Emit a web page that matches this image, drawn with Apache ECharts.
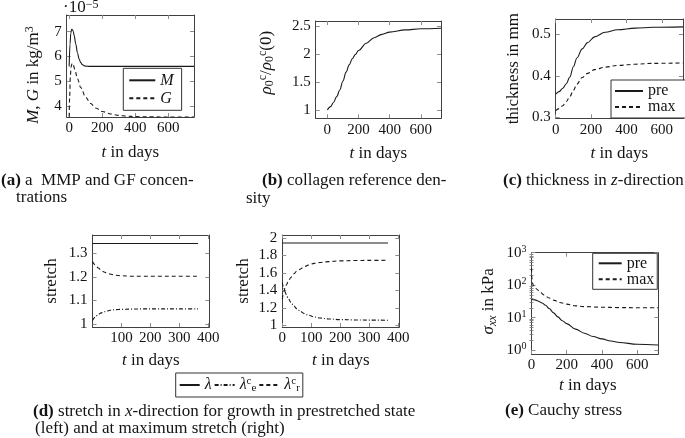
<!DOCTYPE html>
<html><head><meta charset="utf-8">
<script src="https://cdn.jsdelivr.net/npm/echarts@6/dist/echarts.min.js"></script>
<style>html,body{margin:0;padding:0;background:#fff}#c{width:685px;height:438px}</style>
</head><body><div id="c"></div>
<script>
// ---------------- data ----------------
// (a) MMP and GF concentrations (x1e-5 kg/m^3)
const aTimeM = [0,5,10,15,20,25,30,40,50,60,70,80,90,100,120,150,200,300,400,500,600,755];
const aM     = [5.6,6.5,6.95,7.1,7.08,7.0,6.85,6.5,6.15,5.9,5.75,5.67,5.63,5.61,5.6,5.6,5.6,5.6,5.6,5.6,5.6,5.6];
const aTimeG = [0,3,7,12,18,25,35,50,70,100,130,160,200,250,300,350,400,500,600,755];
const aG     = [3.57,4.4,5.2,5.6,5.72,5.65,5.45,5.1,4.75,4.35,4.1,3.92,3.78,3.68,3.62,3.59,3.57,3.56,3.558,3.557];
// (b) collagen reference density
const bTime = [0,20,40,60,80,100,120,140,160,180,200,250,300,350,400,500,600,730];
const bRho  = [1.0,1.06,1.14,1.24,1.36,1.52,1.68,1.81,1.92,2.0,2.07,2.2,2.3,2.36,2.4,2.44,2.46,2.47];
// (c) thickness in z-direction
const cTime = [0,20,40,60,80,100,120,150,180,220,280,350,450,550,720];
const cPre  = [0.356,0.362,0.37,0.381,0.397,0.422,0.443,0.465,0.48,0.494,0.505,0.511,0.515,0.517,0.518];
const cMax  = [0.316,0.321,0.328,0.338,0.35,0.365,0.38,0.396,0.406,0.415,0.421,0.425,0.428,0.43,0.431];
// (d) stretch, prestretched (left) and maximum stretch (right)
const dLamTime = [0,365];
const dLamLeft = [1.342,1.342];
const dLamRight = [1.943,1.943];
const dTimeL = [0,10,20,30,40,50,60,80,100,130,170,220,300,365];
const dLeLeft = [1.015,1.03,1.04,1.047,1.052,1.055,1.058,1.061,1.062,1.063,1.064,1.064,1.064,1.064];
const dLrLeft = [1.265,1.25,1.238,1.228,1.221,1.216,1.212,1.207,1.205,1.203,1.203,1.203,1.203,1.203];
const dTimeR = [0,5,10,15,20,30,40,50,60,75,90,110,130,160,200,250,300,365];
const dLeRight = [1.49,1.43,1.38,1.34,1.31,1.26,1.22,1.19,1.165,1.135,1.115,1.095,1.083,1.072,1.065,1.061,1.059,1.058];
const dLrRight = [1.3,1.38,1.43,1.47,1.5,1.55,1.59,1.62,1.64,1.67,1.69,1.71,1.72,1.73,1.738,1.742,1.744,1.745];
// (e) Cauchy stress (kPa)
const eTimePre = [0,20,40,60,80,100,125,150,175,200,250,300,350,400,450,500,600,720];
const ePre     = [36,35,32,28,24,19,14,10.5,8,6.5,4.4,3.3,2.6,2.2,1.9,1.7,1.5,1.42];
const eTimeMax = [0,2,5,10,20,30,50,70,100,130,160,200,250,300,400,500,600,720];
const eMax     = [330,170,120,100,85,75,60,50,40,34,29,26,23,21.8,20.8,20.3,20.1,20];
// tick labels
const aXTicks = [0,200,400,600];
const aYTicks = [4,5,6,7];
const bXTicks = [0,200,400,600];
const bYTicks = [1,1.5,2,2.5];
const cXTicks = [0,200,400,600];
const cYTicks = [0.3,0.4,0.5];
const dLeftXTicks = [100,200,300,400];
const dRightXTicks = [0,100,200,300,400];
const dLeftYTicks = [1,1.1,1.2,1.3];
const dRightYTicks = [1,1.2,1.4,1.6,1.8,2];
const eXTicks = [0,200,400,600];
const eYTicks = [1,10,100,1000];
const eYMinorTicks = [2,3,4,5,6,7,8,9,20,30,40,50,60,70,80,90,200,300,400,500,600,700,800,900];

// ---------------- style ----------------
const FONT = 'Liberation Serif';
const FS = 17;      // titles, captions
const TFS = 15;     // tick labels
const LFS = 16;     // legend
const TXT = '#141414';
const BOX = '#404040';
const TICK = '#8c8c8c';
const LINE = '#1a1a1a';
function mkRich(fs, small) {
  return {
    i:   {fontFamily: FONT, fontSize: fs, fontStyle: 'italic', color: TXT, lineHeight: fs + 2},
    b:   {fontFamily: FONT, fontSize: fs, fontWeight: 'bold', color: TXT, lineHeight: fs + 2},
    sup: {fontFamily: FONT, fontSize: small, color: TXT, verticalAlign: 'top', lineHeight: small - 1},
    sub: {fontFamily: FONT, fontSize: small, color: TXT, verticalAlign: 'bottom', lineHeight: small - 1},
    isub:{fontFamily: FONT, fontSize: small, fontStyle: 'italic', color: TXT, verticalAlign: 'bottom', lineHeight: small - 1}
  };
}
const rich = mkRich(FS, 12);
const richTick = mkRich(TFS, 10);
const richLeg = mkRich(LFS, 11);
const txtStyle = {fontFamily: FONT, fontSize: FS, color: TXT, lineHeight: FS + 2, rich: rich};

const panels = [
  {grid:{left:66.7, top:15, width:127.3, height:102}, xr:[-15,755], yr:[3.556,7.674], xt:aXTicks, yt:aYTicks, xGap:26, yGap:24, yPad:[0,18,0,0], yName:'{i|M}, {i|G} in kg/m{sup|3}'},
  {grid:{left:315.7, top:21, width:125.3, height:97.3}, xr:[-75,730], yr:[0.85,2.6], xt:bXTicks, yt:bYTicks, xGap:26, yGap:40, yPad:[0,0,0,14], yName:'{i|ρ}{sub|0}{sup|c}/{i|ρ}{sub|0}{sup|c}(0)'},
  {grid:{left:555.7, top:19, width:127.3, height:99.3}, xr:[0,720], yr:[0.2976,0.537], xt:cXTicks, yt:cYTicks, xGap:26, yGap:33, yName:'thickness in mm'},
  {grid:{left:92.5, top:235, width:116.8, height:92}, xr:[0,404], yr:[0.987,1.378], xt:dLeftXTicks, yt:dLeftYTicks, xGap:24, yGap:31, yName:'stretch'},
  {grid:{left:282.3, top:235, width:117, height:92}, xr:[0,404], yr:[0.98,2.035], xt:dRightXTicks, yt:dRightYTicks, xGap:24, yGap:29, yName:'stretch'},
  {grid:{left:531.5, top:252.7, width:126.8, height:101.3}, xr:[0,720], yr:[0.753,1000], log:true, xt:eXTicks, yt:eYTicks, minor:eYMinorTicks, xGap:22, yGap:33, xPad:[0,14,0,0], yPad:[0,0,0,4], yName:'{i|σ}{isub|xx} in kPa'}
];

const grids = [], xAxes = [], yAxes = [], yIndex = [];
panels.forEach((p, gi) => {
  grids.push(Object.assign({outerBoundsMode:'none', containLabel:false}, p.grid));
  const line = {show:true, onZero:false, lineStyle:{color:BOX, width:1}};
  const tick = {show:true, inside:true, length:4, customValues:p.xt, lineStyle:{color:TICK, width:1}};
  xAxes.push({type:'value', gridIndex:gi, position:'bottom', min:p.xr[0], max:p.xr[1],
    axisLine:line, axisTick:tick, splitLine:{show:false},
    axisLabel:{show:true, customValues:p.xt, margin:4, fontFamily:FONT, fontSize:TFS, color:TXT},
    name:'{i|t} in days', nameLocation:'middle', nameGap:p.xGap,
    nameTextStyle:Object.assign({}, txtStyle, {padding:p.xPad||0})});
  xAxes.push({type:'value', gridIndex:gi, position:'top', min:p.xr[0], max:p.xr[1],
    axisLine:line, axisTick:tick, splitLine:{show:false}, axisLabel:{show:false}});
  const yt = {show:true, inside:true, length:4, customValues:p.yt, lineStyle:{color:TICK, width:1}};
  const yType = p.log ? 'log' : 'value';
  const yLabel = {show:true, customValues:p.yt, margin:5, fontFamily:FONT, fontSize:TFS, color:TXT};
  if (p.log) {
    yLabel.formatter = v => '10{sup|' + Math.round(Math.log10(v)) + '}';
    yLabel.rich = richTick; yLabel.lineHeight = 17;
  }
  yIndex.push(yAxes.length);
  yAxes.push(Object.assign({type:yType, gridIndex:gi, position:'left', min:p.yr[0], max:p.yr[1],
    axisLine:line, axisTick:yt, splitLine:{show:false}, axisLabel:yLabel,
    name:p.yName, nameLocation:'middle', nameRotate:90, nameGap:p.yGap,
    nameTextStyle:Object.assign({}, txtStyle, {padding:p.yPad||0})}, p.log?{logBase:10}:{}));
  yAxes.push(Object.assign({type:yType, gridIndex:gi, position:'right', min:p.yr[0], max:p.yr[1],
    axisLine:line, axisTick:yt, splitLine:{show:false}, axisLabel:{show:false}}, p.log?{logBase:10}:{}));
  if (p.minor) {
    ['left','right'].forEach(pos => {
      yAxes.push({type:'log', logBase:10, gridIndex:gi, position:pos, min:p.yr[0], max:p.yr[1],
        axisLine:{show:false}, splitLine:{show:false}, axisLabel:{show:false},
        axisTick:{show:true, inside:true, length:2, customValues:p.minor, lineStyle:{color:TICK, width:1}}});
    });
  }
});

const SOLID = 'solid', DASH = [4,3], DASHDOT = [4,2,1,2];
function pairs(t, v) { return t.map((x, i) => [x, v[i]]); }
function ser(name, gi, t, v, type) {
  return {type:'line', name:name, xAxisIndex:2*gi, yAxisIndex:yIndex[gi], data:pairs(t, v),
    symbol:'none', showSymbol:false, legendIcon:'none', smooth:0.35, smoothMonotone:'x', color:LINE,
    lineStyle:{color:LINE, width:1.1, type:type}, emphasis:{disabled:true}, silent:true};
}
const series = [
  ser('M', 0, aTimeM, aM, SOLID),
  ser('G', 0, aTimeG, aG, DASH),
  ser('rho', 1, bTime, bRho, SOLID),
  ser('pre', 2, cTime, cPre, SOLID),
  ser('max', 2, cTime, cMax, DASH),
  ser('λ', 3, dLamTime, dLamLeft, SOLID),
  ser('λe', 3, dTimeL, dLeLeft, DASHDOT),
  ser('λr', 3, dTimeL, dLrLeft, DASH),
  ser('λ', 4, dLamTime, dLamRight, SOLID),
  ser('λe', 4, dTimeR, dLeRight, DASHDOT),
  ser('λr', 4, dTimeR, dLrRight, DASH),
  ser('pre', 5, eTimePre, ePre, SOLID),
  ser('max', 5, eTimeMax, eMax, DASH)
];

const legTxt = {fontFamily: FONT, fontSize: LFS, color: TXT, lineHeight: 15, rich: richLeg};
function legend(data, left, top, opts) {
  return Object.assign({data:data, left:left, top:top, orient:'vertical', selectedMode:false,
    itemWidth:26, itemHeight:10, itemGap:0, padding:[3,8,3,4],
    itemStyle:{opacity:0, borderWidth:0},
    borderColor:'#333', borderWidth:1, borderRadius:0, backgroundColor:'#fff',
    textStyle:legTxt}, opts||{});
}
const legends = [
  legend(['M','G'], 123.3, 68.3, {itemWidth:26, padding:[3,8,3,5], textStyle:Object.assign({}, legTxt, {lineHeight:19}), formatter:n => '{i|' + n + '}'}),
  legend(['pre','max'], 611, 80, {itemWidth:28, padding:[3,10,3,3]}),
  legend(['λ','λe','λr'], 175.7, 373, {orient:'horizontal', itemWidth:20, itemGap:2, padding:[3,3,3,3],
    textStyle:Object.assign({}, legTxt, {lineHeight:17}),
    formatter:n => n === 'λ' ? '{i|λ}' : '{i|λ}{sup|c}{sub|' + n.charAt(1) + '}'}),
  legend(['pre','max'], 592.7, 253.3, {itemWidth:23, padding:[2,3,2,5]})
];

function cap(text, x, y) {
  return {type:'text', left:x, top:y, style:{text:text, fill:TXT, font:FS + 'px ' + FONT, rich:rich}};
}
const graphics = [
  {type:'text', left:63, top:-1, style:{text:'·10{sup|−5}', fill:TXT, font:FS + 'px ' + FONT, rich:rich}},
  cap('{b|(a)} a  MMP and GF concen-', 1, 172),
  cap('trations', 16, 189),
  cap('{b|(b)} collagen reference den-', 262, 172),
  cap('sity', 246, 190),
  cap('{b|(c)} thickness in {i|z}-direction', 503, 172),
  cap('{b|(d)} stretch in {i|x}-direction for growth in prestretched state', 33, 403),
  cap('(left) and at maximum stretch (right)', 35, 420),
  cap('{b|(e)} Cauchy stress', 505, 402)
];

const chart = echarts.init(document.getElementById('c'), null, {renderer:'canvas', width:685, height:438});
chart.setOption({
  animation:false, backgroundColor:'#fff',
  grid:grids, xAxis:xAxes, yAxis:yAxes, series:series, legend:legends, graphic:graphics
});
</script></body></html>
